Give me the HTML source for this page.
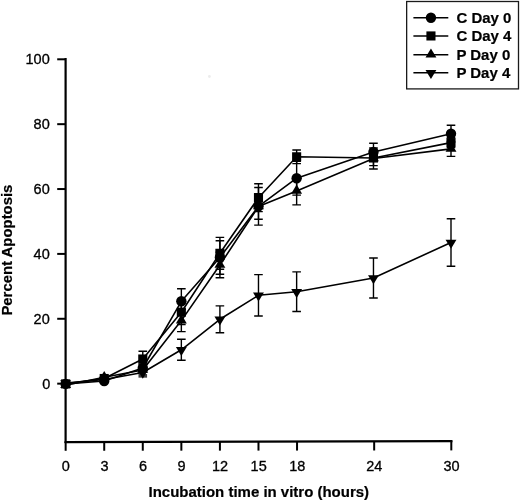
<!DOCTYPE html>
<html lang="en"><head><meta charset="utf-8"><title>Percent Apoptosis</title>
<style>
html,body{margin:0;padding:0;background:#fff;}
body{width:520px;height:502px;overflow:hidden;}
svg{display:block;}
text{font-family:"Liberation Sans",Arial,Helvetica,sans-serif;fill:#000;}
.t{font-size:14.5px;stroke:#000;stroke-width:.3px;}
.b{font-size:15px;font-weight:bold;stroke:#000;stroke-width:.2px;}
</style></head><body>
<svg width="520" height="502" viewBox="0 0 520 502">
<rect width="520" height="502" fill="#fff"/>

<g stroke="#000" stroke-width="2.2" fill="none" stroke-linecap="butt">
<path d="M65.6 57.9V443.1"/>
<path d="M64.6 442.1L452.5 441.15"/>
</g>
<g stroke="#000" stroke-width="2" fill="none">
<path d="M57.2 59.30H65.6"/>
<path d="M57.2 124.17H65.6"/>
<path d="M57.2 189.04H65.6"/>
<path d="M57.2 253.91H65.6"/>
<path d="M57.2 318.78H65.6"/>
<path d="M57.2 383.65H65.6"/>
<path d="M65.65 442.10V450.80"/>
<path d="M104.22 442.00V450.76"/>
<path d="M142.78 441.91V450.72"/>
<path d="M181.35 441.81V450.68"/>
<path d="M219.91 441.72V450.64"/>
<path d="M258.48 441.63V450.60"/>
<path d="M297.04 441.53V450.56"/>
<path d="M374.17 441.34V450.48"/>
<path d="M451.30 441.15V450.40"/>
</g>
<g class="t" text-anchor="end">
<text transform="translate(49.7 64.30) scale(1 1.05)">100</text>
<text transform="translate(49.7 129.17) scale(1 1.05)">80</text>
<text transform="translate(49.7 194.04) scale(1 1.05)">60</text>
<text transform="translate(49.7 258.91) scale(1 1.05)">40</text>
<text transform="translate(49.7 323.78) scale(1 1.05)">20</text>
<text transform="translate(50.400000000000006 389.05) scale(1 1.05)">0</text>
</g>
<g class="t" text-anchor="middle">
<text transform="translate(65.85 470.8) scale(1 1.05)">0</text>
<text transform="translate(104.42 470.8) scale(1 1.05)">3</text>
<text transform="translate(142.98 470.8) scale(1 1.05)">6</text>
<text transform="translate(181.55 470.8) scale(1 1.05)">9</text>
<text transform="translate(220.11 470.8) scale(1 1.05)">12</text>
<text transform="translate(258.68 470.8) scale(1 1.05)">15</text>
<text transform="translate(297.24 470.8) scale(1 1.05)">18</text>
<text transform="translate(374.37 470.8) scale(1 1.05)">24</text>
<text transform="translate(451.50 470.8) scale(1 1.05)">30</text>
</g>
<text class="b" transform="translate(258.8 497.3) scale(1 .95)" text-anchor="middle">Incubation time in vitro (hours)</text>
<text class="b" style="font-size:14.9px" transform="translate(12.1 250.1) rotate(-90)" text-anchor="middle">Percent Apoptosis</text>
<g stroke="#000" stroke-width="1.4" fill="none">
<path d="M142.78 364.00V372.00M138.48 364.00H147.08M138.48 372.00H147.08"/>
<path d="M181.35 288.80V313.80M177.05 288.80H185.65M177.05 313.80H185.65"/>
<path d="M219.91 240.80V274.20M215.61 240.80H224.21M215.61 274.20H224.21"/>
<path d="M258.48 187.50V225.10M254.18 187.50H262.78M254.18 225.10H262.78"/>
<path d="M296.64 161.30V195.10M292.34 161.30H300.94M292.34 195.10H300.94"/>
<path d="M373.47 143.20V160.80M369.17 143.20H377.77M369.17 160.80H377.77"/>
<path d="M451.00 125.20V142.40M446.70 125.20H455.30M446.70 142.40H455.30"/>
<path d="M142.78 351.20V366.80M138.48 351.20H147.08M138.48 366.80H147.08"/>
<path d="M181.35 299.90V324.50M177.05 299.90H185.65M177.05 324.50H185.65"/>
<path d="M219.91 237.40V269.20M215.61 237.40H224.21M215.61 269.20H224.21"/>
<path d="M258.48 183.80V211.60M254.18 183.80H262.78M254.18 211.60H262.78"/>
<path d="M296.64 150.00V163.60M292.34 150.00H300.94M292.34 163.60H300.94"/>
<path d="M373.47 150.40V165.60M369.17 150.40H377.77M369.17 165.60H377.77"/>
<path d="M451.00 137.60V147.60M446.70 137.60H455.30M446.70 147.60H455.30"/>
<path d="M142.78 365.00V375.00M138.48 365.00H147.08M138.48 375.00H147.08"/>
<path d="M181.35 309.60V331.60M177.05 309.60H185.65M177.05 331.60H185.65"/>
<path d="M219.91 252.20V277.80M215.61 252.20H224.21M215.61 277.80H224.21"/>
<path d="M258.48 193.80V219.20M254.18 193.80H262.78M254.18 219.20H262.78"/>
<path d="M296.64 176.90V204.90M292.34 176.90H300.94M292.34 204.90H300.94"/>
<path d="M373.47 148.00V169.00M369.17 148.00H377.77M369.17 169.00H377.77"/>
<path d="M451.00 141.40V156.40M446.70 141.40H455.30M446.70 156.40H455.30"/>
<path d="M142.78 368.10V376.90M138.48 368.10H147.08M138.48 376.90H147.08"/>
<path d="M181.35 339.30V360.30M177.05 339.30H185.65M177.05 360.30H185.65"/>
<path d="M219.91 305.90V332.70M215.61 305.90H224.21M215.61 332.70H224.21"/>
<path d="M258.48 274.60V316.00M254.18 274.60H262.78M254.18 316.00H262.78"/>
<path d="M296.64 271.90V311.50M292.34 271.90H300.94M292.34 311.50H300.94"/>
<path d="M373.47 258.00V298.00M369.17 258.00H377.77M369.17 298.00H377.77"/>
<path d="M451.00 218.75V266.25M446.70 218.75H455.30M446.70 266.25H455.30"/>
</g>
<g stroke="#000" stroke-width="1.6" fill="none" stroke-linejoin="round">
<polyline points="65.65,383.90 104.22,381.00 142.78,368.00 181.35,301.30 219.91,257.50 258.48,206.30 296.64,178.20 373.47,152.00 451.00,133.80"/>
<polyline points="65.65,383.90 104.22,378.50 142.78,359.00 181.35,312.20 219.91,253.30 258.48,197.70 296.64,156.80 373.47,158.00 451.00,142.60"/>
<polyline points="65.65,385.20 104.22,377.30 142.78,370.00 181.35,320.60 219.91,265.00 258.48,206.50 296.64,190.90 373.47,158.50 451.00,148.90"/>
<polyline points="65.65,383.10 104.22,379.50 142.78,372.50 181.35,349.80 219.91,319.30 258.48,295.30 296.64,291.70 373.47,278.00 451.00,242.50"/>
</g>
<g fill="#000" stroke="none">
<circle cx="65.65" cy="383.90" r="5.2"/>
<circle cx="104.22" cy="381.00" r="5.2"/>
<circle cx="142.78" cy="368.00" r="5.2"/>
<circle cx="181.35" cy="301.30" r="5.2"/>
<circle cx="219.91" cy="257.50" r="5.2"/>
<circle cx="258.48" cy="206.30" r="5.2"/>
<circle cx="296.64" cy="178.20" r="5.2"/>
<circle cx="373.47" cy="152.00" r="5.2"/>
<circle cx="451.00" cy="133.80" r="5.2"/>
<rect x="61.10" y="379.35" width="9.1" height="9.1"/>
<rect x="99.67" y="373.95" width="9.1" height="9.1"/>
<rect x="138.23" y="354.45" width="9.1" height="9.1"/>
<rect x="176.80" y="307.65" width="9.1" height="9.1"/>
<rect x="215.36" y="248.75" width="9.1" height="9.1"/>
<rect x="253.93" y="193.15" width="9.1" height="9.1"/>
<rect x="292.09" y="152.25" width="9.1" height="9.1"/>
<rect x="368.92" y="153.45" width="9.1" height="9.1"/>
<rect x="446.45" y="138.05" width="9.1" height="9.1"/>
<path d="M60.20 388.00L71.10 388.00L65.65 378.90Z"/>
<path d="M98.77 380.10L109.67 380.10L104.22 371.00Z"/>
<path d="M137.33 372.80L148.23 372.80L142.78 363.70Z"/>
<path d="M175.90 323.40L186.80 323.40L181.35 314.30Z"/>
<path d="M214.46 267.80L225.36 267.80L219.91 258.70Z"/>
<path d="M253.03 209.30L263.93 209.30L258.48 200.20Z"/>
<path d="M291.19 193.70L302.09 193.70L296.64 184.60Z"/>
<path d="M368.02 161.30L378.92 161.30L373.47 152.20Z"/>
<path d="M445.55 151.70L456.45 151.70L451.00 142.60Z"/>
<path d="M60.20 380.30L71.10 380.30L65.65 389.40Z"/>
<path d="M98.77 376.70L109.67 376.70L104.22 385.80Z"/>
<path d="M137.33 369.70L148.23 369.70L142.78 378.80Z"/>
<path d="M175.90 347.00L186.80 347.00L181.35 356.10Z"/>
<path d="M214.46 316.50L225.36 316.50L219.91 325.60Z"/>
<path d="M253.03 292.50L263.93 292.50L258.48 301.60Z"/>
<path d="M291.19 288.90L302.09 288.90L296.64 298.00Z"/>
<path d="M368.02 275.20L378.92 275.20L373.47 284.30Z"/>
<path d="M445.55 239.70L456.45 239.70L451.00 248.80Z"/>
</g>
<circle cx="209.4" cy="76.5" r="1.4" fill="#ececec"/>
<rect x="406.65" y="1.5" width="111.85" height="87.4" fill="#fff" stroke="#1a1a1a" stroke-width="1.3"/>
<g stroke="#000" stroke-width="1.6">
<path d="M413.4 17.75H448.3"/>
<path d="M413.4 35.95H448.3"/>
<path d="M413.4 54.8H448.3"/>
<path d="M413.4 72.8H448.3"/>
</g>
<g fill="#000">
<circle cx="430.95" cy="17.75" r="5.2"/>
<rect x="426.40" y="31.40" width="9.1" height="9.1"/>
<path d="M425.50 57.60L436.40 57.60L430.95 48.50Z"/>
<path d="M425.50 70.00L436.40 70.00L430.95 79.10Z"/>
</g>
<g class="b">
<text transform="translate(456.4 22.65) scale(1 .95)">C Day 0</text>
<text transform="translate(456.4 40.85) scale(1 .95)">C Day 4</text>
<text transform="translate(456.4 59.70) scale(1 .95)">P Day 0</text>
<text transform="translate(456.4 77.70) scale(1 .95)">P Day 4</text>
</g>
</svg></body></html>
